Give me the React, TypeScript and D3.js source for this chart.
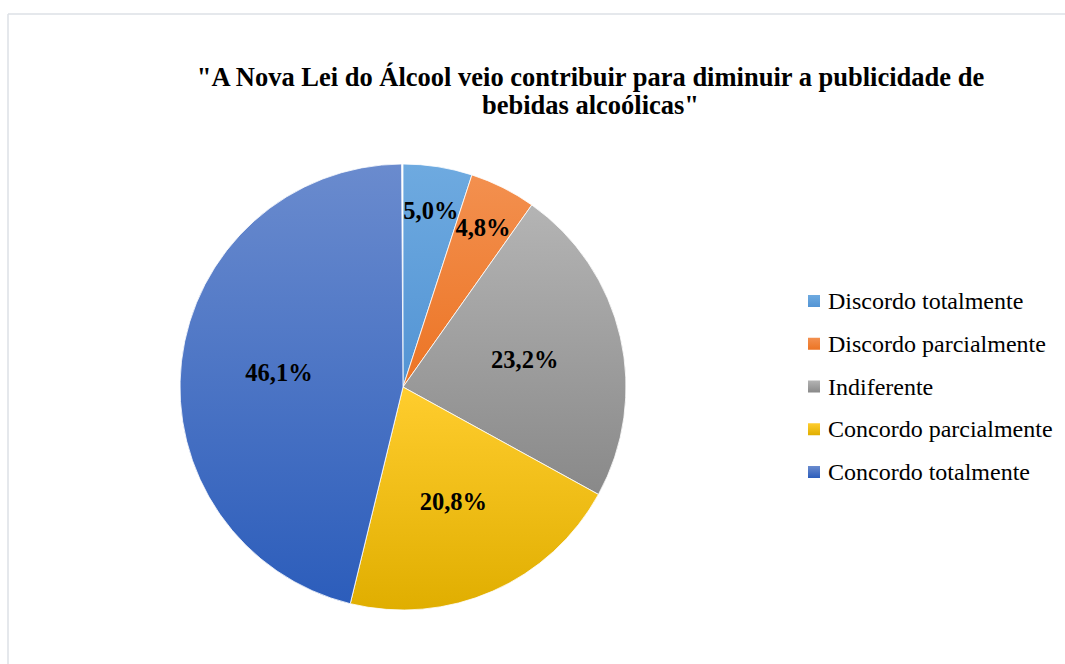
import React from "react";
import * as d3 from "d3";

const titleLines = ['"A Nova Lei do Álcool veio contribuir para diminuir a publicidade de', 'bebidas alcoólicas"'];
const categories = ["Discordo totalmente", "Discordo parcialmente", "Indiferente", "Concordo parcialmente", "Concordo totalmente"];
const values = [5.0, 4.8, 23.2, 20.8, 46.1];
const labels = ["5,0%", "4,8%", "23,2%", "20,8%", "46,1%"];
const colorsTop = ["#6eaae0", "#f3904f", "#b4b4b4", "#ffcd2e", "#6a8bce"];
const colorsBottom = ["#5394d4", "#ec7424", "#898989", "#e0ae00", "#2c5dbb"];

const W = 1065;
const H = 664;
const cx = 403;
const cy = 387;
const R = 223;
const FONT = '"Liberation Serif", "Times New Roman", Times, serif';

export default function App() {
  const data = categories.map((c, i) => ({ c, v: values[i], l: labels[i] }));
  const pie = d3.pie<any>().value((d) => d.v).sort(null).startAngle(0).endAngle(2 * Math.PI * (d3.sum(values) / 100));
  const arcs = pie(data);
  const arc = d3.arc<any>().innerRadius(0).outerRadius(R);
  const legendY = d3.scalePoint<number>().domain(d3.range(categories.length)).range([301, 472]);

  return (
    <svg width={W} height={H} style={{ position: "absolute", left: 0, top: 0, background: "#fff", fontFamily: FONT }}>
      <defs>
        {colorsTop.map((c, i) => (
          <linearGradient key={i} id={`g${i}`} x1="0" y1="0" x2="0" y2="1">
            <stop offset="0" stopColor={c} />
            <stop offset="1" stopColor={colorsBottom[i]} />
          </linearGradient>
        ))}
      </defs>
      <line x1={8} y1={14} x2={W} y2={14} stroke="#dde1e6" strokeWidth={1.5} />
      <line x1={8} y1={14} x2={8} y2={H} stroke="#dde1e6" strokeWidth={1.5} />
      <g fontWeight="bold" fontSize={26.5} textAnchor="middle" fill="#000" style={{ fontFamily: FONT }}>
        {titleLines.map((t, i) => (
          <text key={i} x={590.5} y={86 + i * 28}>{t}</text>
        ))}
      </g>
      <g transform={`translate(${cx},${cy})`}>
        {arcs.map((a, i) => (
          <path key={i} d={arc(a) || ""} fill={`url(#g${i})`} stroke="#ffffff" strokeWidth={0.8} />
        ))}
        {arcs.map((a, i) => {
          const mid = (a.startAngle + a.endAngle) / 2;
          const r = a.data.v < 10 ? R * 0.8 : R * 0.56;
          const x = Math.sin(mid) * r;
          const y = -Math.cos(mid) * r;
          return (
            <text key={i} x={x} y={y} textAnchor="middle" dominantBaseline="central" fontWeight="bold" fontSize={24.5} fill="#000" style={{ fontFamily: FONT }}>
              {a.data.l}
            </text>
          );
        })}
      </g>
      <g>
        {categories.map((c, i) => (
          <g key={i} transform={`translate(808,${legendY(i)})`}>
            <rect x={0} y={-6} width={12} height={12} fill={`url(#g${i})`} />
            <text x={20} y={0} dominantBaseline="central" fontSize={24} fill="#000" style={{ fontFamily: FONT }}>{c}</text>
          </g>
        ))}
      </g>
    </svg>
  );
}
